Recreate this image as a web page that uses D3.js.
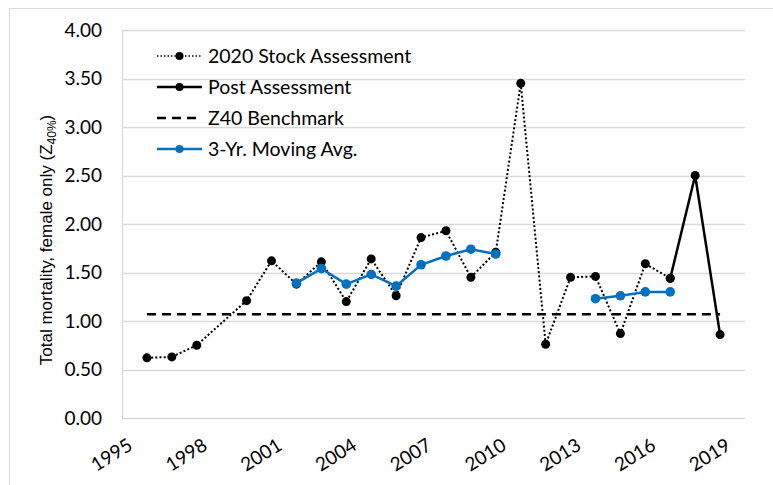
<!DOCTYPE html>
<html lang="en">
<head>
<meta charset="UTF-8">
<title>Total mortality, female only</title>
<script src="https://d3js.org/d3.v7.min.js"></script>
<style>
  body { margin: 0; background: #fff; }
  svg { display: block; }
</style>
</head>
<body>
<div id="chart"></div>
<script>
// data
var stockYears  = [1996, 1997, 1998, 2000, 2001, 2002, 2003, 2004, 2005, 2006, 2007,
                   2008, 2009, 2010, 2011, 2012, 2013, 2014, 2015, 2016, 2017];
var stockValues = [0.62, 0.63, 0.75, 1.21, 1.62, 1.38, 1.61, 1.20, 1.64, 1.26, 1.86,
                   1.93, 1.45, 1.71, 3.45, 0.76, 1.45, 1.46, 0.87, 1.59, 1.44];

var postYears  = [2017, 2018, 2019];
var postValues = [1.44, 2.50, 0.86];

var benchYears  = [1996, 2019];
var benchValues = [1.07, 1.07];

var avgYears  = [2002, 2003, 2004, 2005, 2006, 2007, 2008, 2009, 2010, 2011, 2012, 2013,
                 2014, 2015, 2016, 2017];
var avgValues = [1.39, 1.54, 1.38, 1.48, 1.36, 1.58, 1.67, 1.74, 1.69, null, null, null,
                 1.23, 1.26, 1.30, 1.30];

var yTicks = [0, 0.5, 1, 1.5, 2, 2.5, 3, 3.5, 4];
var xTicks = [1995, 1998, 2001, 2004, 2007, 2010, 2013, 2016, 2019];

var legendNames = ["2020 Stock Assessment", "Post Assessment", "Z40 Benchmark", "3-Yr. Moving Avg."];

var width = 773, height = 485;
var font = "Lato, 'Open Sans', sans-serif";
var blue = "#0070c0";

var svg = d3.select("#chart").append("svg")
    .attr("width", width)
    .attr("height", height);

// outer chart border (only top and left visible)
svg.append("rect")
    .attr("x", 9.5).attr("y", 8.5)
    .attr("width", 800).attr("height", 500)
    .attr("fill", "none")
    .attr("stroke", "#d9d9d9");

var x = d3.scaleLinear().domain([1995, 2020]).range([122, 745]);
var y = d3.scaleLinear().domain([0, 4]).range([418, 30]);

// gridlines
svg.append("g")
    .selectAll("line")
    .data(yTicks)
    .enter().append("line")
    .attr("x1", x(1995)).attr("x2", x(2020))
    .attr("y1", function(d) { return Math.round(y(d)) + 0.5; })
    .attr("y2", function(d) { return Math.round(y(d)) + 0.5; })
    .attr("stroke", "#d9d9d9")
    .attr("stroke-width", 1.3);

// left axis line
svg.append("line")
    .attr("x1", x(1995) + 0.5).attr("x2", x(1995) + 0.5)
    .attr("y1", y(4)).attr("y2", y(0) + 1)
    .attr("stroke", "#d9d9d9")
    .attr("stroke-width", 1.3);

// y tick labels
var yAxis = d3.axisLeft(y).tickValues(yTicks).tickFormat(d3.format(".2f")).tickSize(0).tickPadding(20);
var gy = svg.append("g").attr("transform", "translate(" + x(1995) + ",0)").call(yAxis);
gy.select(".domain").remove();
gy.selectAll("text")
    .attr("font-family", font)
    .attr("font-size", 19)
    .attr("fill", "#000");

// x tick labels
var xAxis = d3.axisBottom(x).tickValues(xTicks).tickFormat(d3.format("d")).tickSize(0);
var gx = svg.append("g").attr("transform", "translate(0," + y(0) + ")").call(xAxis);
gx.select(".domain").remove();
gx.selectAll("text")
    .attr("font-family", font)
    .attr("font-size", 19)
    .attr("fill", "#000")
    .attr("text-anchor", "end")
    .attr("y", 0)
    .attr("dy", "0.72em")
    .attr("transform", "translate(4,19) rotate(-32)");

// y axis title
var title = svg.append("text")
    .attr("transform", "translate(52,240) rotate(-90)")
    .attr("text-anchor", "middle")
    .attr("font-family", "'Liberation Sans', Arial, sans-serif")
    .attr("font-size", 17)
    .attr("fill", "#000");
title.append("tspan").text("Total mortality, female only (Z");
title.append("tspan").attr("font-size", 12).attr("dy", 4).text("40%");
title.append("tspan").attr("dy", -4).text(")");

var line = d3.line()
    .defined(function(d) { return d.v != null; })
    .x(function(d) { return x(d.year); })
    .y(function(d) { return y(d.v); });

function pairs(years, values) {
    return years.map(function(yr, i) { return { year: yr, v: values[i] }; });
}

var stock = pairs(stockYears, stockValues);
var post = pairs(postYears, postValues);
var bench = pairs(benchYears, benchValues);
var avg = pairs(avgYears, avgValues);

// 2020 stock assessment (dotted)
svg.append("path").datum(stock)
    .attr("d", line)
    .attr("fill", "none")
    .attr("stroke", "#000")
    .attr("stroke-width", 2)
    .attr("stroke-dasharray", "2,2.2");
svg.append("g").selectAll("circle").data(stock).enter().append("circle")
    .attr("cx", function(d) { return x(d.year); })
    .attr("cy", function(d) { return y(d.v); })
    .attr("r", 4.5)
    .attr("fill", "#000");

// post assessment (solid)
svg.append("path").datum(post)
    .attr("d", line)
    .attr("fill", "none")
    .attr("stroke", "#000")
    .attr("stroke-width", 2.5);
svg.append("g").selectAll("circle").data(post).enter().append("circle")
    .attr("cx", function(d) { return x(d.year); })
    .attr("cy", function(d) { return y(d.v); })
    .attr("r", 4.5)
    .attr("fill", "#000");

// Z40 benchmark (dashed)
svg.append("path").datum(bench)
    .attr("d", line)
    .attr("fill", "none")
    .attr("stroke", "#000")
    .attr("stroke-width", 2.5)
    .attr("stroke-dasharray", "9,6");

// 3-yr moving average
svg.append("path").datum(avg)
    .attr("d", line)
    .attr("fill", "none")
    .attr("stroke", blue)
    .attr("stroke-width", 2.5);
svg.append("g").selectAll("circle").data(avg.filter(function(d) { return d.v != null; }))
    .enter().append("circle")
    .attr("cx", function(d) { return x(d.year); })
    .attr("cy", function(d) { return y(d.v); })
    .attr("r", 4.8)
    .attr("fill", blue);

// legend
var legendRows = [56, 87, 118, 149];
var lg = svg.append("g");
legendNames.forEach(function(name, i) {
    var ry = legendRows[i];
    var ln = lg.append("line")
        .attr("x1", 157).attr("x2", 202)
        .attr("y1", ry).attr("y2", ry)
        .attr("stroke", i === 3 ? blue : "#000")
        .attr("stroke-width", i === 0 ? 1.5 : 2.5);
    if (i === 0) ln.attr("stroke-dasharray", "1.5,2");
    if (i === 2) ln.attr("stroke-dasharray", "9,6");
    if (i !== 2) {
        lg.append("circle")
            .attr("cx", 179.5).attr("cy", ry)
            .attr("r", 4)
            .attr("fill", i === 3 ? blue : "#000");
    }
    lg.append("text")
        .attr("x", 208).attr("y", ry)
        .attr("dy", "0.35em")
        .attr("font-family", font)
        .attr("font-size", 19.5)
        .attr("fill", "#000")
        .text(name);
});
</script>
</body>
</html>
